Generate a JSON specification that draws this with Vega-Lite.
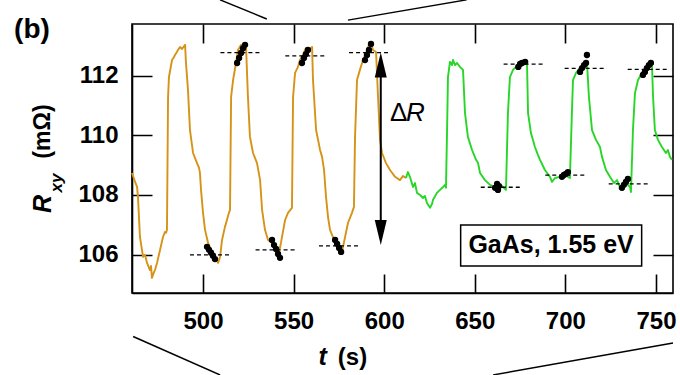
{
  "$schema": "https://vega.github.io/schema/vega-lite/v6.json",
  "width": 541,
  "height": 269,
  "autosize": {"type": "none"},
  "padding": {"left": 132, "top": 24, "right": 7, "bottom": 82},
  "background": "white",
  "config": {"view": {"stroke": "black", "strokeWidth": 1.6}, "font": "Liberation Sans"},
  "datasets": {
    "trace": [
      {"s":"o","t":460.8,"R":108.74},{"s":"o","t":462.5,"R":108.44},{"s":"o","t":463.6,"R":108.27},{"s":"o","t":464.1,"R":107.93},{"s":"o","t":465.2,"R":106.59},{"s":"o","t":466.9,"R":105.92},{"s":"o","t":468.0,"R":105.99},{"s":"o","t":469.1,"R":105.72},{"s":"o","t":470.7,"R":105.48},{"s":"o","t":471.3,"R":105.62},{"s":"o","t":471.8,"R":105.22},{"s":"o","t":473.0,"R":105.42},{"s":"o","t":473.5,"R":105.48},{"s":"o","t":474.6,"R":105.72},{"s":"o","t":476.3,"R":106.16},{"s":"o","t":477.9,"R":106.59},{"s":"o","t":479.0,"R":106.76},{"s":"o","t":479.6,"R":106.73},{"s":"o","t":480.1,"R":106.83},{"s":"o","t":480.7,"R":111.29},{"s":"o","t":481.2,"R":111.96},{"s":"o","t":482.3,"R":112.33},{"s":"o","t":482.9,"R":112.53},{"s":"o","t":484.0,"R":112.63},{"s":"o","t":484.5,"R":112.70},{"s":"o","t":485.6,"R":112.80},{"s":"o","t":486.2,"R":112.87},{"s":"o","t":487.3,"R":112.97},{"s":"o","t":488.4,"R":112.90},{"s":"o","t":490.1,"R":113.04},{"s":"o","t":490.6,"R":112.43},{"s":"o","t":491.7,"R":111.53},{"s":"o","t":492.8,"R":110.18},{"s":"o","t":493.9,"R":109.68},{"s":"o","t":494.5,"R":109.41},{"s":"o","t":495.6,"R":109.24},{"s":"o","t":496.7,"R":109.07},{"s":"o","t":497.8,"R":108.91},{"s":"o","t":498.3,"R":108.74},{"s":"o","t":498.9,"R":108.17},{"s":"o","t":500.0,"R":107.40},{"s":"o","t":501.1,"R":106.83},{"s":"o","t":502.8,"R":106.39},{"s":"o","t":504.4,"R":106.16},{"s":"o","t":505.5,"R":106.02},{"s":"o","t":506.6,"R":105.92},{"s":"o","t":508.3,"R":105.72},{"s":"o","t":509.4,"R":105.92},{"s":"o","t":510.5,"R":106.49},{"s":"o","t":512.1,"R":106.93},{"s":"o","t":513.2,"R":107.16},{"s":"o","t":514.3,"R":107.40},{"s":"o","t":514.9,"R":107.50},{"s":"o","t":515.5,"R":111.29},{"s":"o","t":516.6,"R":111.86},{"s":"o","t":518.2,"R":112.43},{"s":"o","t":519.3,"R":112.87},{"s":"o","t":521.0,"R":113.04},{"s":"o","t":522.6,"R":112.93},{"s":"o","t":523.7,"R":113.04},{"s":"o","t":524.8,"R":111.29},{"s":"o","t":525.9,"R":109.95},{"s":"o","t":527.6,"R":109.41},{"s":"o","t":529.8,"R":109.07},{"s":"o","t":531.5,"R":108.50},{"s":"o","t":532.6,"R":107.50},{"s":"o","t":534.2,"R":106.83},{"s":"o","t":535.9,"R":106.49},{"s":"o","t":538.1,"R":106.39},{"s":"o","t":539.7,"R":106.16},{"s":"o","t":541.4,"R":105.92},{"s":"o","t":543.0,"R":106.39},{"s":"o","t":545.3,"R":107.16},{"s":"o","t":546.9,"R":107.40},{"s":"o","t":549.1,"R":107.57},{"s":"o","t":549.7,"R":111.29},{"s":"o","t":550.8,"R":112.10},{"s":"o","t":552.4,"R":112.30},{"s":"o","t":553.5,"R":112.53},{"s":"o","t":555.2,"R":112.70},{"s":"o","t":556.8,"R":112.93},{"s":"o","t":558.5,"R":112.87},{"s":"o","t":560.2,"R":112.97},{"s":"o","t":560.7,"R":111.86},{"s":"o","t":562.4,"R":110.18},{"s":"o","t":563.5,"R":109.85},{"s":"o","t":564.6,"R":109.51},{"s":"o","t":565.7,"R":109.28},{"s":"o","t":566.8,"R":108.84},{"s":"o","t":567.9,"R":107.93},{"s":"o","t":569.0,"R":107.26},{"s":"o","t":570.1,"R":106.83},{"s":"o","t":571.7,"R":106.59},{"s":"o","t":573.4,"R":106.39},{"s":"o","t":575.6,"R":106.16},{"s":"o","t":576.7,"R":106.09},{"s":"o","t":578.4,"R":106.59},{"s":"o","t":580.0,"R":107.06},{"s":"o","t":582.2,"R":107.40},{"s":"o","t":583.3,"R":107.60},{"s":"o","t":583.9,"R":109.95},{"s":"o","t":585.0,"R":111.86},{"s":"o","t":586.6,"R":112.20},{"s":"o","t":588.3,"R":112.53},{"s":"o","t":590.0,"R":112.77},{"s":"o","t":591.6,"R":113.04},{"s":"o","t":592.7,"R":113.10},{"s":"o","t":593.8,"R":112.87},{"s":"o","t":595.5,"R":112.80},{"s":"o","t":596.6,"R":111.29},{"s":"o","t":597.7,"R":109.85},{"s":"o","t":598.8,"R":109.41},{"s":"o","t":601.0,"R":109.07},{"s":"o","t":603.2,"R":108.84},{"s":"o","t":606.0,"R":108.61},{"s":"o","t":608.7,"R":108.50},{"s":"o","t":610.4,"R":108.64},{"s":"o","t":612.0,"R":108.57},
      {"s":"g","t":612.0,"R":108.57},{"s":"g","t":613.1,"R":108.77},{"s":"g","t":614.2,"R":108.61},{"s":"g","t":615.9,"R":108.27},{"s":"g","t":617.0,"R":108.40},{"s":"g","t":618.1,"R":108.07},{"s":"g","t":619.8,"R":108.00},{"s":"g","t":621.4,"R":107.90},{"s":"g","t":622.5,"R":107.97},{"s":"g","t":623.6,"R":107.73},{"s":"g","t":625.3,"R":107.57},{"s":"g","t":626.4,"R":107.70},{"s":"g","t":626.9,"R":107.83},{"s":"g","t":629.1,"R":108.07},{"s":"g","t":630.8,"R":108.17},{"s":"g","t":632.5,"R":108.27},{"s":"g","t":633.6,"R":108.34},{"s":"g","t":634.1,"R":108.24},{"s":"g","t":634.7,"R":110.18},{"s":"g","t":635.2,"R":111.96},{"s":"g","t":636.3,"R":112.47},{"s":"g","t":637.4,"R":112.36},{"s":"g","t":638.0,"R":112.53},{"s":"g","t":639.1,"R":112.36},{"s":"g","t":640.2,"R":112.43},{"s":"g","t":641.8,"R":112.30},{"s":"g","t":643.5,"R":112.20},{"s":"g","t":644.6,"R":110.75},{"s":"g","t":646.2,"R":109.95},{"s":"g","t":648.5,"R":109.51},{"s":"g","t":650.7,"R":109.18},{"s":"g","t":651.8,"R":109.07},{"s":"g","t":652.9,"R":108.74},{"s":"g","t":655.6,"R":108.50},{"s":"g","t":658.4,"R":108.34},{"s":"g","t":661.2,"R":108.27},{"s":"g","t":662.8,"R":108.24},{"s":"g","t":665.0,"R":108.30},{"s":"g","t":667.2,"R":108.17},{"s":"g","t":668.3,"R":110.75},{"s":"g","t":669.4,"R":111.96},{"s":"g","t":671.1,"R":112.20},{"s":"g","t":672.7,"R":112.30},{"s":"g","t":675.0,"R":112.47},{"s":"g","t":677.2,"R":112.40},{"s":"g","t":678.8,"R":112.47},{"s":"g","t":679.4,"R":110.75},{"s":"g","t":681.0,"R":110.08},{"s":"g","t":683.2,"R":109.61},{"s":"g","t":684.9,"R":109.34},{"s":"g","t":686.0,"R":109.18},{"s":"g","t":688.7,"R":108.84},{"s":"g","t":691.5,"R":108.61},{"s":"g","t":692.6,"R":108.44},{"s":"g","t":694.3,"R":108.57},{"s":"g","t":697.0,"R":108.61},{"s":"g","t":699.8,"R":108.67},{"s":"g","t":702.5,"R":108.57},{"s":"g","t":703.6,"R":110.75},{"s":"g","t":704.2,"R":111.86},{"s":"g","t":705.9,"R":112.10},{"s":"g","t":708.1,"R":112.26},{"s":"g","t":710.3,"R":112.43},{"s":"g","t":711.9,"R":112.47},{"s":"g","t":713.0,"R":111.29},{"s":"g","t":714.7,"R":110.18},{"s":"g","t":716.9,"R":109.85},{"s":"g","t":719.1,"R":109.61},{"s":"g","t":720.2,"R":109.28},{"s":"g","t":722.4,"R":108.84},{"s":"g","t":724.6,"R":108.61},{"s":"g","t":726.8,"R":108.40},{"s":"g","t":728.5,"R":108.50},{"s":"g","t":730.1,"R":108.27},{"s":"g","t":731.8,"R":108.17},{"s":"g","t":733.5,"R":108.40},{"s":"g","t":735.7,"R":108.27},{"s":"g","t":736.2,"R":108.10},{"s":"g","t":737.3,"R":110.18},{"s":"g","t":738.4,"R":111.42},{"s":"g","t":740.1,"R":111.86},{"s":"g","t":742.3,"R":112.10},{"s":"g","t":744.5,"R":112.30},{"s":"g","t":746.7,"R":112.43},{"s":"g","t":747.8,"R":112.36},{"s":"g","t":748.4,"R":111.29},{"s":"g","t":749.4,"R":110.18},{"s":"g","t":751.1,"R":109.85},{"s":"g","t":753.3,"R":109.61},{"s":"g","t":755.5,"R":109.41},{"s":"g","t":756.6,"R":109.51},{"s":"g","t":757.7,"R":109.28},{"s":"g","t":758.8,"R":109.18}
    ],
    "dots": [
      {"t":502.2,"R":106.26},{"t":503.3,"R":106.16},{"t":504.4,"R":106.06},{"t":505.5,"R":105.96},{"t":506.6,"R":105.85},
      {"t":518.8,"R":112.43},{"t":519.9,"R":112.60},{"t":521.0,"R":112.77},{"t":522.1,"R":112.93},{"t":523.2,"R":113.04},
      {"t":538.1,"R":106.49},{"t":539.2,"R":106.32},{"t":540.3,"R":106.19},{"t":541.4,"R":106.02},{"t":542.5,"R":105.89},
      {"t":554.6,"R":112.43},{"t":555.7,"R":112.60},{"t":556.8,"R":112.73},{"t":557.9,"R":112.87},
      {"t":572.9,"R":106.49},{"t":574.0,"R":106.36},{"t":575.1,"R":106.22},{"t":576.2,"R":106.09},
      {"t":589.4,"R":112.53},{"t":590.5,"R":112.70},{"t":591.6,"R":112.87},{"t":592.7,"R":113.07},
      {"t":661.2,"R":108.24},{"t":662.3,"R":108.37},{"t":663.4,"R":108.30},{"t":662.8,"R":108.17},
      {"t":674.0,"R":112.30},{"t":675.0,"R":112.40},{"t":676.1,"R":112.43},{"t":677.8,"R":112.47},
      {"t":698.1,"R":108.61},{"t":699.2,"R":108.67},{"t":700.3,"R":108.71},{"t":701.4,"R":108.77},
      {"t":708.1,"R":112.13},{"t":709.2,"R":112.26},{"t":710.3,"R":112.36},{"t":711.4,"R":112.43},{"t":711.9,"R":112.70},
      {"t":731.2,"R":108.24},{"t":732.3,"R":108.34},{"t":733.4,"R":108.44},{"t":734.5,"R":108.54},
      {"t":742.8,"R":112.03},{"t":743.9,"R":112.13},{"t":745.0,"R":112.26},{"t":746.1,"R":112.36},{"t":747.2,"R":112.43}
    ],
    "dashes": [
      {"t1":492.8,"t2":516.0,"R":105.99},{"t1":529.0,"t2":552.0,"R":106.16},{"t1":564.0,"t2":587.0,"R":106.29},
      {"t1":509.6,"t2":532.8,"R":112.78},{"t1":545.4,"t2":568.1,"R":112.67},{"t1":580.6,"t2":603.3,"R":112.78},
      {"t1":665.9,"t2":688.0,"R":112.39},{"t1":699.6,"t2":722.8,"R":112.25},{"t1":734.4,"t2":757.5,"R":112.22},
      {"t1":653.3,"t2":676.5,"R":108.26},{"t1":688.9,"t2":711.0,"R":108.67},{"t1":723.9,"t2":746.0,"R":108.37}
    ],
    "connectors": [
      {"t1":509.4,"R1":114.55,"t2":535.2,"R2":113.91},
      {"t1":580.0,"R1":113.87,"t2":645.5,"R2":114.55},
      {"t1":461.4,"R1":103.25,"t2":509.4,"R2":101.96},
      {"t1":660.1,"R1":101.96,"t2":759.4,"R2":103.03}
    ]
  },
  "layer": [
    {
      "data": {"name": "trace"},
      "mark": {"type": "line", "strokeWidth": 1.9, "strokeJoin": "round"},
      "encoding": {
        "x": {"field": "t", "type": "quantitative", "scale": {"domain": [460.8, 759.4], "nice": false, "zero": false},
          "axis": {"orient": "bottom", "values": [500, 550, 600, 650, 700, 750], "title": null, "grid": true, "gridColor": "black", "gridOpacity": 1, "gridWidth": 1.6, "gridDash": [19, 231, 19, 300], "ticks": false, "domainColor": "black", "domainWidth": 1.6, "labelPadding": 16, "labelFontSize": 24, "labelFontWeight": "bold", "labelFont": "Liberation Sans", "labelColor": "black", "labelFlush": false, "labelOverlap": false}},
        "y": {"field": "R", "type": "quantitative", "scale": {"domain": [104.71, 113.74], "nice": false, "zero": false},
          "axis": {"orient": "left", "values": [106, 108, 110, 112], "title": null, "grid": true, "gridColor": "black", "gridOpacity": 1, "gridWidth": 1.6, "gridDash": [20, 501, 20, 600], "ticks": false, "domainColor": "black", "domainWidth": 1.6, "labelPadding": 14, "labelFontSize": 24, "labelFontWeight": "bold", "labelFont": "Liberation Sans", "labelColor": "black", "labelFlush": false, "labelOverlap": false}},
        "color": {"field": "s", "type": "nominal", "scale": {"domain": ["o", "g"], "range": ["#D69318", "#28D628"]}, "legend": null}
      }
    },
    {
      "data": {"name": "dashes"},
      "mark": {"type": "rule", "color": "black", "strokeWidth": 1.3, "strokeDash": [4, 3]},
      "encoding": {
        "x": {"field": "t1", "type": "quantitative", "scale": {"domain": [460.8, 759.4], "nice": false, "zero": false}},
        "x2": {"field": "t2"},
        "y": {"field": "R", "type": "quantitative", "scale": {"domain": [104.71, 113.74], "nice": false, "zero": false}}
      }
    },
    {
      "data": {"name": "dots"},
      "mark": {"type": "point", "filled": true, "color": "black", "opacity": 1, "size": 40},
      "encoding": {
        "x": {"field": "t", "type": "quantitative", "scale": {"domain": [460.8, 759.4], "nice": false, "zero": false}},
        "y": {"field": "R", "type": "quantitative", "scale": {"domain": [104.71, 113.74], "nice": false, "zero": false}}
      }
    },
    {
      "data": {"values": [{"t": 598.1, "R1": 112.36, "R2": 106.74}]},
      "mark": {"type": "rule", "color": "black", "strokeWidth": 2},
      "encoding": {
        "x": {"field": "t", "type": "quantitative", "scale": {"domain": [460.8, 759.4], "nice": false, "zero": false}},
        "y": {"field": "R1", "type": "quantitative", "scale": {"domain": [104.71, 113.74], "nice": false, "zero": false}},
        "y2": {"field": "R2"}
      }
    },
    {
      "data": {"values": [{"t": 598.1, "R": 112.36, "head": "up"}, {"t": 598.1, "R": 106.74, "head": "down"}]},
      "mark": {"type": "point", "filled": true, "color": "black", "opacity": 1, "size": 625},
      "encoding": {
        "x": {"field": "t", "type": "quantitative", "scale": {"domain": [460.8, 759.4], "nice": false, "zero": false}},
        "y": {"field": "R", "type": "quantitative", "scale": {"domain": [104.71, 113.74], "nice": false, "zero": false}},
        "shape": {"field": "head", "type": "nominal", "scale": {"domain": ["up", "down"], "range": ["M0,-1L0.48,1L-0.48,1Z", "M0,1L0.48,-1L-0.48,-1Z"]}, "legend": null}
      }
    },
    {
      "data": {"values": [{"t1": 642.2, "t2": 742.1, "R1": 106.99, "R2": 105.62}]},
      "mark": {"type": "rect", "fill": "white", "stroke": "black", "strokeWidth": 1.5},
      "encoding": {
        "x": {"field": "t1", "type": "quantitative", "scale": {"domain": [460.8, 759.4], "nice": false, "zero": false}},
        "x2": {"field": "t2"},
        "y": {"field": "R1", "type": "quantitative", "scale": {"domain": [104.71, 113.74], "nice": false, "zero": false}},
        "y2": {"field": "R2"}
      }
    },
    {
      "data": {"values": [{"t": 692.1, "R": 106.31, "label": "GaAs, 1.55 eV"}]},
      "mark": {"type": "text", "fontSize": 25, "fontWeight": "bold", "font": "Liberation Sans", "color": "black", "align": "center", "baseline": "middle"},
      "encoding": {
        "x": {"field": "t", "type": "quantitative", "scale": {"domain": [460.8, 759.4], "nice": false, "zero": false}},
        "y": {"field": "R", "type": "quantitative", "scale": {"domain": [104.71, 113.74], "nice": false, "zero": false}},
        "text": {"field": "label"}
      }
    },
    {
      "data": {"values": [{"t": 603.2, "R": 110.75, "label": "Δ"}]},
      "mark": {"type": "text", "fontSize": 26, "font": "Liberation Sans", "color": "black", "align": "left", "baseline": "middle"},
      "encoding": {
        "x": {"field": "t", "type": "quantitative", "scale": {"domain": [460.8, 759.4], "nice": false, "zero": false}},
        "y": {"field": "R", "type": "quantitative", "scale": {"domain": [104.71, 113.74], "nice": false, "zero": false}},
        "text": {"field": "label"}
      }
    },
    {
      "data": {"values": [{"t": 612.0, "R": 110.75, "label": "R"}]},
      "mark": {"type": "text", "fontSize": 26, "font": "Liberation Sans", "fontStyle": "italic", "color": "black", "align": "left", "baseline": "middle"},
      "encoding": {
        "x": {"field": "t", "type": "quantitative", "scale": {"domain": [460.8, 759.4], "nice": false, "zero": false}},
        "y": {"field": "R", "type": "quantitative", "scale": {"domain": [104.71, 113.74], "nice": false, "zero": false}},
        "text": {"field": "label"}
      }
    },
    {
      "data": {"values": [{"t": 405.6, "R": 113.54, "label": "(b)"}]},
      "mark": {"type": "text", "fontSize": 28, "fontWeight": "bold", "font": "Liberation Sans", "color": "black", "align": "center", "baseline": "middle"},
      "encoding": {
        "x": {"field": "t", "type": "quantitative", "scale": {"domain": [460.8, 759.4], "nice": false, "zero": false}},
        "y": {"field": "R", "type": "quantitative", "scale": {"domain": [104.71, 113.74], "nice": false, "zero": false}},
        "text": {"field": "label"}
      }
    },
    {
      "data": {"values": [{"t": 411.7, "R": 107.70, "label": "R"}]},
      "mark": {"type": "text", "fontSize": 25, "fontStyle": "italic", "fontWeight": "bold", "font": "Liberation Sans", "color": "black", "align": "center", "baseline": "middle", "angle": 270},
      "encoding": {
        "x": {"field": "t", "type": "quantitative", "scale": {"domain": [460.8, 759.4], "nice": false, "zero": false}},
        "y": {"field": "R", "type": "quantitative", "scale": {"domain": [104.71, 113.74], "nice": false, "zero": false}},
        "text": {"field": "label"}
      }
    },
    {
      "data": {"values": [{"t": 419.4, "R": 108.40, "label": "xy"}]},
      "mark": {"type": "text", "fontSize": 17, "fontStyle": "italic", "fontWeight": "bold", "font": "Liberation Sans", "color": "black", "align": "center", "baseline": "middle", "angle": 270},
      "encoding": {
        "x": {"field": "t", "type": "quantitative", "scale": {"domain": [460.8, 759.4], "nice": false, "zero": false}},
        "y": {"field": "R", "type": "quantitative", "scale": {"domain": [104.71, 113.74], "nice": false, "zero": false}},
        "text": {"field": "label"}
      }
    },
    {
      "data": {"values": [{"t": 411.7, "R": 110.13, "label": "(mΩ)"}]},
      "mark": {"type": "text", "fontSize": 23, "fontWeight": "bold", "font": "Liberation Sans", "color": "black", "align": "center", "baseline": "middle", "angle": 270},
      "encoding": {
        "x": {"field": "t", "type": "quantitative", "scale": {"domain": [460.8, 759.4], "nice": false, "zero": false}},
        "y": {"field": "R", "type": "quantitative", "scale": {"domain": [104.71, 113.74], "nice": false, "zero": false}},
        "text": {"field": "label"}
      }
    },
    {
      "data": {"values": [{"t": 566.0, "R": 102.55, "label": "t"}]},
      "mark": {"type": "text", "fontSize": 25, "fontStyle": "italic", "fontWeight": "bold", "font": "Liberation Sans", "color": "black", "align": "center", "baseline": "middle"},
      "encoding": {
        "x": {"field": "t", "type": "quantitative", "scale": {"domain": [460.8, 759.4], "nice": false, "zero": false}},
        "y": {"field": "R", "type": "quantitative", "scale": {"domain": [104.71, 113.74], "nice": false, "zero": false}},
        "text": {"field": "label"}
      }
    },
    {
      "data": {"values": [{"t": 582.5, "R": 102.53, "label": "(s)"}]},
      "mark": {"type": "text", "fontSize": 24, "fontWeight": "bold", "font": "Liberation Sans", "color": "black", "align": "center", "baseline": "middle"},
      "encoding": {
        "x": {"field": "t", "type": "quantitative", "scale": {"domain": [460.8, 759.4], "nice": false, "zero": false}},
        "y": {"field": "R", "type": "quantitative", "scale": {"domain": [104.71, 113.74], "nice": false, "zero": false}},
        "text": {"field": "label"}
      }
    },
    {
      "data": {"name": "connectors"},
      "mark": {"type": "rule", "color": "black", "strokeWidth": 1.5},
      "encoding": {
        "x": {"field": "t1", "type": "quantitative", "scale": {"domain": [460.8, 759.4], "nice": false, "zero": false}},
        "x2": {"field": "t2"},
        "y": {"field": "R1", "type": "quantitative", "scale": {"domain": [104.71, 113.74], "nice": false, "zero": false}},
        "y2": {"field": "R2"}
      }
    }
  ]
}
